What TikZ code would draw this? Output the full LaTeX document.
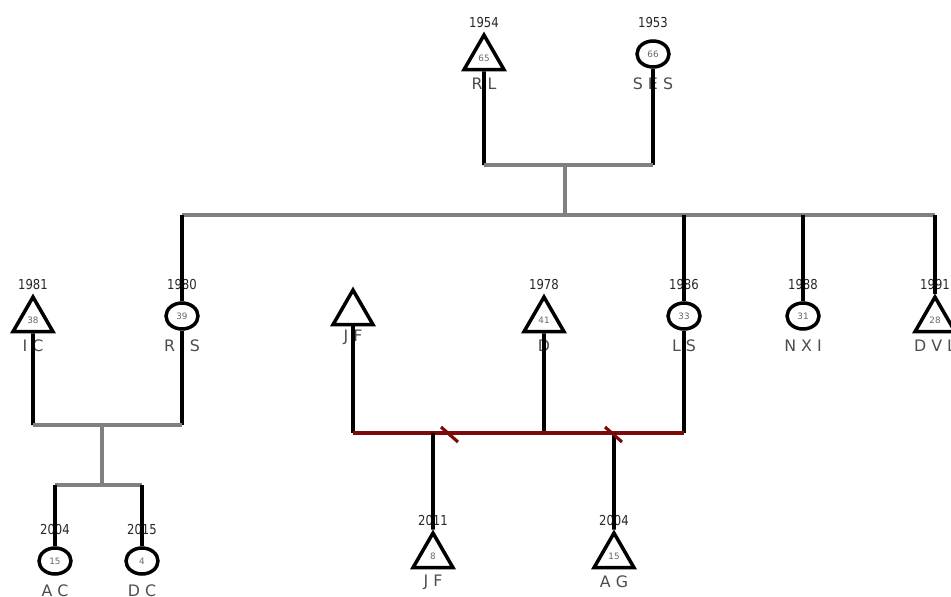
\documentclass[tikz,border=0pt]{standalone}
\usepackage{fontspec}
\setmainfont{DejaVu Sans}
\usepackage{xcolor}
\usepackage{tikz}
\usetikzlibrary{shapes.geometric}
\definecolor{bargray}{RGB}{128,128,128}
\definecolor{splitred}{RGB}{125,10,10}
\tikzset{
  every picture/.append style={font=\footnotesize},
  male/.style={draw,line width=2pt,regular polygon,regular polygon sides=3,
    minimum size=0.92cm,inner sep=0pt,yshift=-2.3pt,font=\fontsize{5}{5}\selectfont,text=black!60},
  female/.style={draw,line width=2pt,ellipse,minimum width=0.64cm,minimum height=0.52cm,
    inner sep=0pt,font=\fontsize{5}{5}\selectfont,text=black!60},
  yeartag/.style={font=\fontsize{7.8}{8}\selectfont,xscale=0.85,text=black!85,inner sep=0pt},
  nametag/.style={font=\fontsize{9}{10}\selectfont,text=black!70,inner sep=0pt},
  kin/.style={line width=2.2pt,black},
  bar/.style={line width=2.2pt,bargray},
  splitbar/.style={line width=2.4pt,splitred}
}

\begin{document}
\begin{tikzpicture}[x=0.02cm,y=-0.02cm]
    \useasboundingbox (0,0) rectangle (951,596);
    % people: name/x/row/shape/born/age/label
    \foreach \n/\x/\y/\s/\yr/\ag/\lb in {
        rl/484/54/male/1954/65/R L, ses/653/54/female/1953/66/S E S,
        ic/33/316/male/1981/38/I C, ris/182/316/female/1980/39/R I S,
        d/544/316/male/1978/41/D, ls/684/316/female/1986/33/L S,
        nxi/803/316/female/1988/31/N X I, dvl/935/316/male/1991/28/D V L,
        ac/55/561/female/2004/15/A C, dc/142/561/female/2015/4/D C,
        jf/433/552/male/2011/8/J F, ag/614/552/male/2004/15/A G} {
      \node[\s] (\n) at (\x,\y) {\ag};
      \node[yeartag] (\n-yr) at (\x,\y-31) {\yr};
      \node[nametag] (\n-lb) at (\x,\y+30) {\lb};
    }
    \node[male] (jfa) at (353,309) {};
    \node[nametag] (jfa-lb) at (353,337) {J F};

    % couple and sibling bars
    \coordinate (rl-c) at (484,165);
    \coordinate (ses-c) at (653,165);
    \coordinate (top-m) at (565,165);
    \coordinate (sib-m) at (565,215);
    \coordinate (sib-l) at (182,215);
    \coordinate (sib-r) at (935,215);
    \draw[kin] (rl.south) -- (rl-c);
    \draw[kin] (ses.south) -- (ses-c);
    \draw[bar] (rl-c) -- (ses-c);
    \draw[bar] (top-m) -- (sib-m);
    \draw[bar] (sib-l) -- (sib-r);
    \foreach \n in {ris,ls,nxi,dvl}
      \draw[kin] (\n.north |- sib-l) -- (\n.north);

    % IC and RIS
    \coordinate (ic-c) at (33,425);
    \coordinate (ris-c) at (182,425);
    \coordinate (icris-m) at (102,425);
    \coordinate (kids-m) at (102,485);
    \coordinate (kids-l) at (55,485);
    \coordinate (kids-r) at (142,485);
    \draw[kin] (ic.south) -- (ic-c);
    \draw[kin] (ris.south) -- (ris-c);
    \draw[bar] (ic-c) -- (ris-c);
    \draw[bar] (icris-m) -- (kids-m);
    \draw[bar] (kids-l) -- (kids-r);
    \draw[kin] (kids-l) -- (ac.north);
    \draw[kin] (kids-r) -- (dc.north);

    % split household
    \coordinate (jfa-c) at (353,433);
    \coordinate (ls-c) at (684,433);
    \coordinate (d-c) at (544,433);
    \coordinate (jf-c) at (433,433);
    \coordinate (ag-c) at (614,433);
    \draw[kin] (jfa.south) -- (jfa-c);
    \draw[kin] (d.south) -- (d-c);
    \draw[kin] (ls.south) -- (ls-c);
    \draw[splitbar] (jfa-c) -- (ls-c);
    \draw[kin] (jf-c) -- (jf.north);
    \draw[kin] (ag-c) -- (ag.north);
    \draw[splitred,line width=1.8pt] (441,427) -- (458,442);
    \draw[splitred,line width=1.8pt] (605,427) -- (622,442);
  \end{tikzpicture}
\end{document}
